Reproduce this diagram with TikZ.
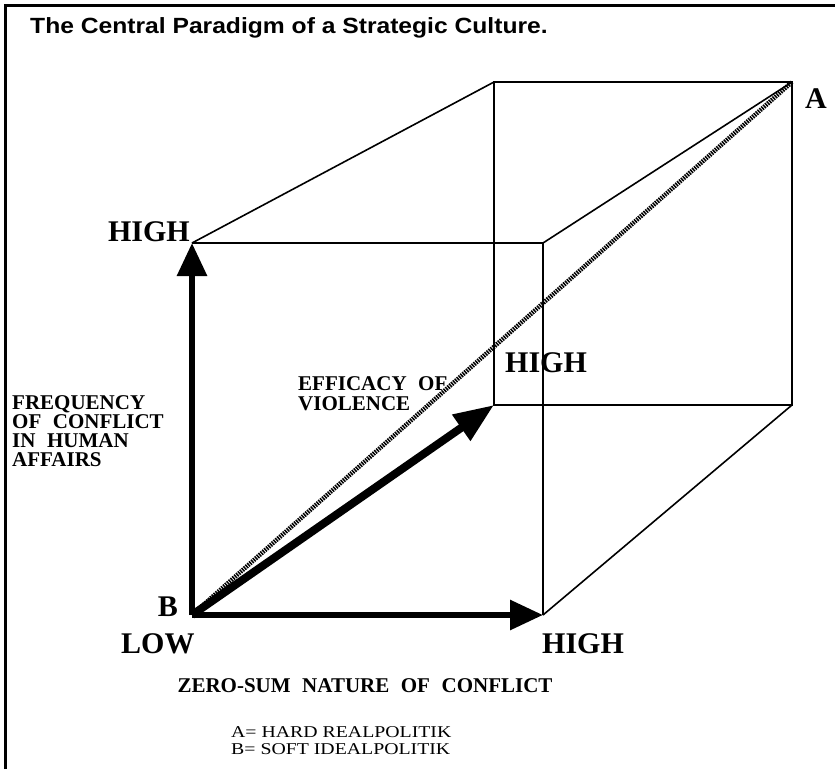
\documentclass[tikz,border=0pt]{standalone}
\usepackage{fontspec}
\setmainfont{Liberation Serif}
\newfontfamily\titlefont[FakeStretch=1.12]{Liberation Sans}
\newfontfamily\labfont[WordSpace=2.2]{Liberation Serif}
\newfontfamily\legfont[FakeStretch=1.2]{Liberation Serif}
\usetikzlibrary{arrows.meta}
\begin{document}
\begin{tikzpicture}[x=1pt,y=-1pt,
  frame/.style={line width=3pt},
  edge/.style={line width=1.6pt},
  axis/.style={line width=6pt,-{Triangle[length=33pt,width=29pt]}},
  hatch/.style={line width=4.5pt,dash pattern=on 1.5pt off 1pt},
  big/.style={font=\fontsize{30}{32}\selectfont\bfseries,inner sep=0pt},
  lab/.style={font=\labfont\fontsize{21}{19.5}\selectfont\bfseries,inner sep=0pt,align=left},
  legend/.style={font=\legfont\fontsize{16.5}{17}\selectfont,inner sep=0pt,align=left}]
\useasboundingbox (0,0) rectangle (835,769);
% frame
\coordinate (fTL) at (5,5);
\coordinate (fTR) at (835,5);
\coordinate (fBL) at (5,769);
\draw[frame] (fBL) -- (fTL) -- (fTR);
% cube vertices
\coordinate (B)   at (192,615);
\coordinate (FTL) at (192,243);
\coordinate (FBR) at (543,615);
\coordinate (FTR) at (543,243);
\coordinate (BTL) at (494,82);
\coordinate (BTR) at (792,82);
\coordinate (BBL) at (494,405);
\coordinate (BBR) at (792,405);
% cube edges
\draw[edge] (BTL) rectangle (BBR);
\draw[edge] (FTL) -- (FTR) -- (FBR);
\draw[edge] (FTL) -- (BTL);
\draw[edge] (FTR) -- (BTR);
\draw[edge] (FBR) -- (BBR);
% diagonal
\draw[hatch] (B) -- (BTR);
% axes
\draw[axis] (B) -- (FTL);
\draw[axis] (B) -- (FBR);
\draw[line width=8pt,-{Triangle[length=40pt,width=30pt]}] (B) -- (BBL);
% title
\node[anchor=base west,inner sep=0pt,font=\titlefont\fontsize{22}{24}\selectfont\bfseries] (title) at (30,33) {The Central Paradigm of a Strategic Culture.};
% labels
\node[big,anchor=base east] (hightl) at (190,241) {HIGH};
\node[big,anchor=base west] (A) at (805,108) {A};
\node[big,anchor=base west] (highm) at (505,372) {HIGH};
\node[big,anchor=base east] (Blab) at (178,616) {B};
\node[big,anchor=base west] (low) at (121,653) {LOW};
\node[big,anchor=base west] (highb) at (542,653) {HIGH};
\node[lab,anchor=base west] (eff) at (298,390) {EFFICACY OF};
\node[lab,anchor=base west] (vio) at (298,410) {VIOLENCE};
\node[lab,anchor=base west] (freq1) at (12,409) {FREQUENCY};
\node[lab,anchor=base west] (freq2) at (12,428) {OF CONFLICT};
\node[lab,anchor=base west] (freq3) at (12,447) {IN HUMAN};
\node[lab,anchor=base west] (freq4) at (12,466) {AFFAIRS};
\node[lab,anchor=base] (zero) at (365,692) {ZERO-SUM NATURE OF CONFLICT};
\node[legend,anchor=base west] (leg1) at (231,737) {A= HARD REALPOLITIK};
\node[legend,anchor=base west] (leg2) at (231,754) {B= SOFT IDEALPOLITIK};
\end{tikzpicture}
\end{document}
